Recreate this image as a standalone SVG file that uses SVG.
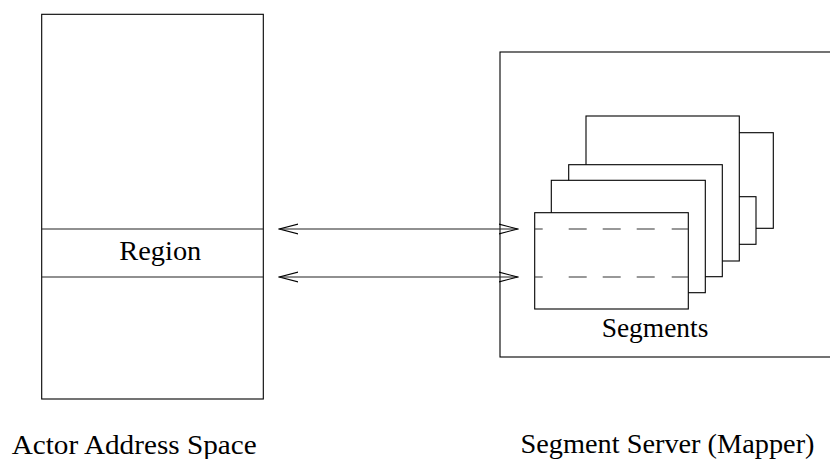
<svg xmlns="http://www.w3.org/2000/svg" width="830" height="459" viewBox="0 0 830 459">
<defs>
<style>
.box{fill:#fff;stroke:#000;stroke-width:1.1}
.ln{stroke:#222;stroke-width:1.1;fill:none}
.dash{stroke:#333;stroke-width:1.1;stroke-dasharray:8 26 18 16 18 16 18 17 17}
.lbl{font-family:"Liberation Serif","Times New Roman",serif;font-size:28px;fill:#000}
</style>
<marker id="ah" viewBox="0 0 20 12" refX="19" refY="6" markerWidth="20" markerHeight="12" markerUnits="userSpaceOnUse" orient="auto-start-reverse">
<path d="M0,1 L19,6 L0,11" fill="none" stroke="#000" stroke-width="1.1"/>
</marker>
</defs>
<rect width="830" height="459" fill="#fff"/>
<g id="actor-address-space">
<rect class="box" x="41.7" y="14.3" width="221.6" height="384.7"/>
<line class="ln" x1="41.7" y1="229" x2="263.3" y2="229"/>
<line class="ln" x1="41.7" y1="277" x2="263.3" y2="277"/>
<text class="lbl" x="119.3" y="260" textLength="82" lengthAdjust="spacingAndGlyphs">Region</text>
<text class="lbl" x="11.7" y="454" textLength="245" lengthAdjust="spacingAndGlyphs">Actor Address Space</text>
</g>
<g id="segment-server">
<rect class="box" x="500" y="52" width="340" height="305"/>
<text class="lbl" x="520.5" y="453" textLength="294" lengthAdjust="spacingAndGlyphs">Segment Server (Mapper)</text>
</g>
<g id="segments">
<rect class="box" x="705" y="132.7" width="68.3" height="95.6"/>
<rect class="box" x="705" y="196.7" width="51" height="47.6"/>
<rect class="box" x="586" y="116" width="153.3" height="145"/>
<rect class="box" x="568.7" y="164.7" width="153.6" height="112"/>
<rect class="box" x="551.3" y="180.3" width="154" height="112.4"/>
<rect class="box" x="534.7" y="212.7" width="153.6" height="96.3"/>
<line class="dash" x1="534.7" y1="229" x2="688.3" y2="229"/>
<line class="dash" x1="534.7" y1="277" x2="688.3" y2="277"/>
<text class="lbl" x="601.7" y="337" textLength="106.7" lengthAdjust="spacingAndGlyphs">Segments</text>
</g>
<g id="connectors">
<line class="ln" x1="279.3" y1="229" x2="517.7" y2="229" marker-start="url(#ah)" marker-end="url(#ah)"/>
<line class="ln" x1="279.3" y1="277" x2="517.7" y2="277" marker-start="url(#ah)" marker-end="url(#ah)"/>
</g>
</svg>
